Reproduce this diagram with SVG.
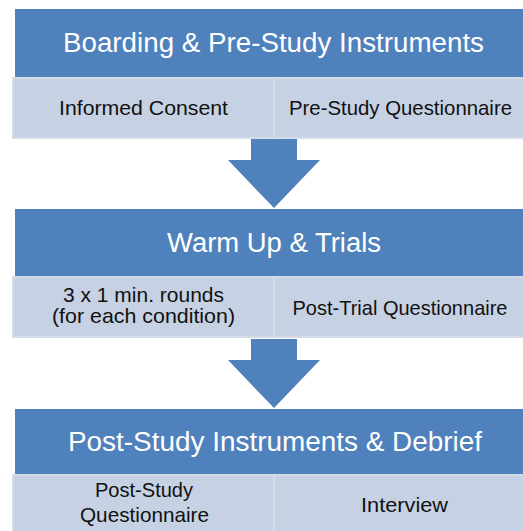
<svg xmlns="http://www.w3.org/2000/svg" width="523" height="531" viewBox="0 0 523 531">
<style>
.hdr{fill:#4f81bd}
.cell{fill:#c6d1e4;stroke:#d4dcea;stroke-width:2}
.ht{font-family:"Liberation Sans",Arial,sans-serif;font-size:27px;fill:#ffffff;text-anchor:middle}
.ct{font-family:"Liberation Sans",Arial,sans-serif;font-size:21px;fill:#111111;text-anchor:middle}
.arr{fill:#4f81bd}
</style>
<rect width="523" height="531" fill="#ffffff"/>
<g id="connectors">
<polygon class="arr" points="251,139 297,139 297,160 320,160 274,208 228,160 251,160"/>
<polygon class="arr" points="251,339 297,339 297,360 320,360 274,408 228,360 251,360"/>
</g>
<g id="stage1">
<rect class="hdr" x="15" y="9" width="520" height="68"/>
<text class="ht" x="273.5" y="52" textLength="421" lengthAdjust="spacingAndGlyphs">Boarding &amp; Pre-Study Instruments</text>
</g>
<g id="informed-consent">
<rect class="cell" x="13" y="78" width="261" height="60"/>
<text class="ct" x="143.5" y="115" textLength="169" lengthAdjust="spacingAndGlyphs">Informed Consent</text>
</g>
<g id="pre-study-questionnaire">
<rect class="cell" x="274" y="78" width="262" height="60"/>
<text class="ct" x="400.5" y="115" textLength="223" lengthAdjust="spacingAndGlyphs">Pre-Study Questionnaire</text>
</g>
<g id="stage2">
<rect class="hdr" x="15" y="209" width="520" height="67"/>
<text class="ht" x="274" y="252" textLength="214" lengthAdjust="spacingAndGlyphs">Warm Up &amp; Trials</text>
</g>
<g id="rounds">
<rect class="cell" x="13" y="277" width="261" height="60"/>
<text class="ct" x="143.5" y="302" textLength="161" lengthAdjust="spacingAndGlyphs">3 x 1 min. rounds</text>
<text class="ct" x="143.5" y="323" textLength="183" lengthAdjust="spacingAndGlyphs">(for each condition)</text>
</g>
<g id="post-trial-questionnaire">
<rect class="cell" x="274" y="277" width="262" height="60"/>
<text class="ct" x="400" y="315" textLength="215" lengthAdjust="spacingAndGlyphs">Post-Trial Questionnaire</text>
</g>
<g id="stage3">
<rect class="hdr" x="15" y="409" width="520" height="65"/>
<text class="ht" x="275" y="451" textLength="414" lengthAdjust="spacingAndGlyphs">Post-Study Instruments &amp; Debrief</text>
</g>
<g id="post-study-questionnaire">
<rect class="cell" x="13" y="475" width="261" height="60"/>
<text class="ct" x="144" y="497" textLength="98" lengthAdjust="spacingAndGlyphs">Post-Study</text>
<text class="ct" x="144.5" y="522" textLength="129" lengthAdjust="spacingAndGlyphs">Questionnaire</text>
</g>
<g id="interview">
<rect class="cell" x="274" y="475" width="262" height="60"/>
<text class="ct" x="404.5" y="512" textLength="87" lengthAdjust="spacingAndGlyphs">Interview</text>
</g>
</svg>
